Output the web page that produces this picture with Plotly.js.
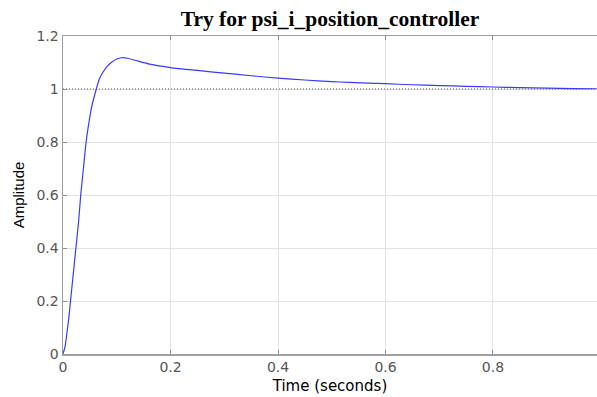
<!DOCTYPE html>
<html>
<head>
<meta charset="utf-8">
<script src="https://cdn.plot.ly/plotly-3.0.1.min.js"></script>
<style>html,body{margin:0;padding:0;background:#fff;}#chart{width:597px;height:397px;}</style>
</head>
<body>
<div id="chart"></div>
<script>
const titleText = "Try for psi_i_position_controller";
const xTitle = "Time (seconds)";
const yTitle = "Amplitude";

const time = [0, 0.004, 0.008, 0.011, 0.014, 0.019, 0.024, 0.029, 0.033, 0.038, 0.043, 0.048, 0.053, 0.062, 0.068, 0.075, 0.082, 0.09, 0.1, 0.109, 0.12, 0.14, 0.161, 0.2, 0.25, 0.3, 0.35, 0.4, 0.45, 0.5, 0.533, 0.6, 0.65, 0.7, 0.75, 0.8, 0.85, 0.9, 0.95, 0.993];
const amplitude = [0, 0.03, 0.09, 0.14, 0.2, 0.3, 0.4, 0.5, 0.6, 0.7, 0.8, 0.87, 0.93, 1.0, 1.04, 1.065, 1.085, 1.1, 1.113, 1.118, 1.116, 1.105, 1.094, 1.081, 1.07, 1.06, 1.05, 1.041, 1.034, 1.028, 1.025, 1.02, 1.016, 1.013, 1.01, 1.0075, 1.005, 1.003, 1.0015, 1.001];

const refTime = [0, 0.9935];
const refLevel = [1, 1];

const xTicks = [0, 0.2, 0.4, 0.6, 0.8];
const xTickText = ["0", "0.2", "0.4", "0.6", "0.8"];
const yTicks = [0, 0.2, 0.4, 0.6, 0.8, 1, 1.2];
const yTickText = ["0", "0.2", "0.4", "0.6", "0.8", "1", "1.2"];

const traces = [
  {x: refTime, y: refLevel, mode: 'lines', line: {color: '#5a5a5a', width: 1, dash: '1px,2px'}, hoverinfo: 'skip', showlegend: false},
  {x: time, y: amplitude, mode: 'lines', line: {color: '#3a3aff', width: 1.2, shape: 'spline', smoothing: 0.6}, showlegend: false}
];

const layout = {
  width: 597, height: 397,
  margin: {l: 63, r: 0, t: 36, b: 43, pad: 0},
  paper_bgcolor: '#ffffff', plot_bgcolor: '#ffffff',
  showlegend: false,
  title: {
    text: '<b>' + titleText + '</b>',
    font: {family: '"Liberation Serif", "Times New Roman", serif', size: 21.5, color: '#000'},
    xref: 'paper', x: 0.5, xanchor: 'center',
    yref: 'container', y: 1 - 18/397, yanchor: 'middle'
  },
  xaxis: {
    range: [0, 0.9935], autorange: false,
    tickmode: 'array', tickvals: xTicks, ticktext: xTickText,
    ticks: 'inside', ticklen: 4, tickcolor: '#8c8c8c', tickwidth: 1,
    showline: true, linecolor: '#a0a0a0', linewidth: 1.5, mirror: 'ticks',
    showgrid: true, gridcolor: '#e3e3e3', gridwidth: 1,
    zeroline: false,
    tickfont: {family: '"DejaVu Sans", sans-serif', size: 14, color: '#555'},
    title: {text: xTitle, font: {family: '"DejaVu Sans", sans-serif', size: 15, color: '#000'}, standoff: 6},
    automargin: false
  },
  yaxis: {
    range: [0, 1.2], autorange: false,
    tickmode: 'array', tickvals: yTicks, ticktext: yTickText,
    ticks: 'inside', ticklen: 4, tickcolor: '#8c8c8c', tickwidth: 1,
    showline: true, linecolor: '#a0a0a0', linewidth: 1.5,
    showgrid: true, gridcolor: '#e3e3e3', gridwidth: 1,
    zeroline: false,
    tickfont: {family: '"DejaVu Sans", sans-serif', size: 14, color: '#555'},
    title: {text: yTitle, font: {family: '"Liberation Sans", Arial, sans-serif', size: 15, color: '#000'}, standoff: 8},
    automargin: false
  }
};

Plotly.newPlot('chart', traces, layout, {displayModeBar: false, staticPlot: true});
</script>
</body>
</html>
